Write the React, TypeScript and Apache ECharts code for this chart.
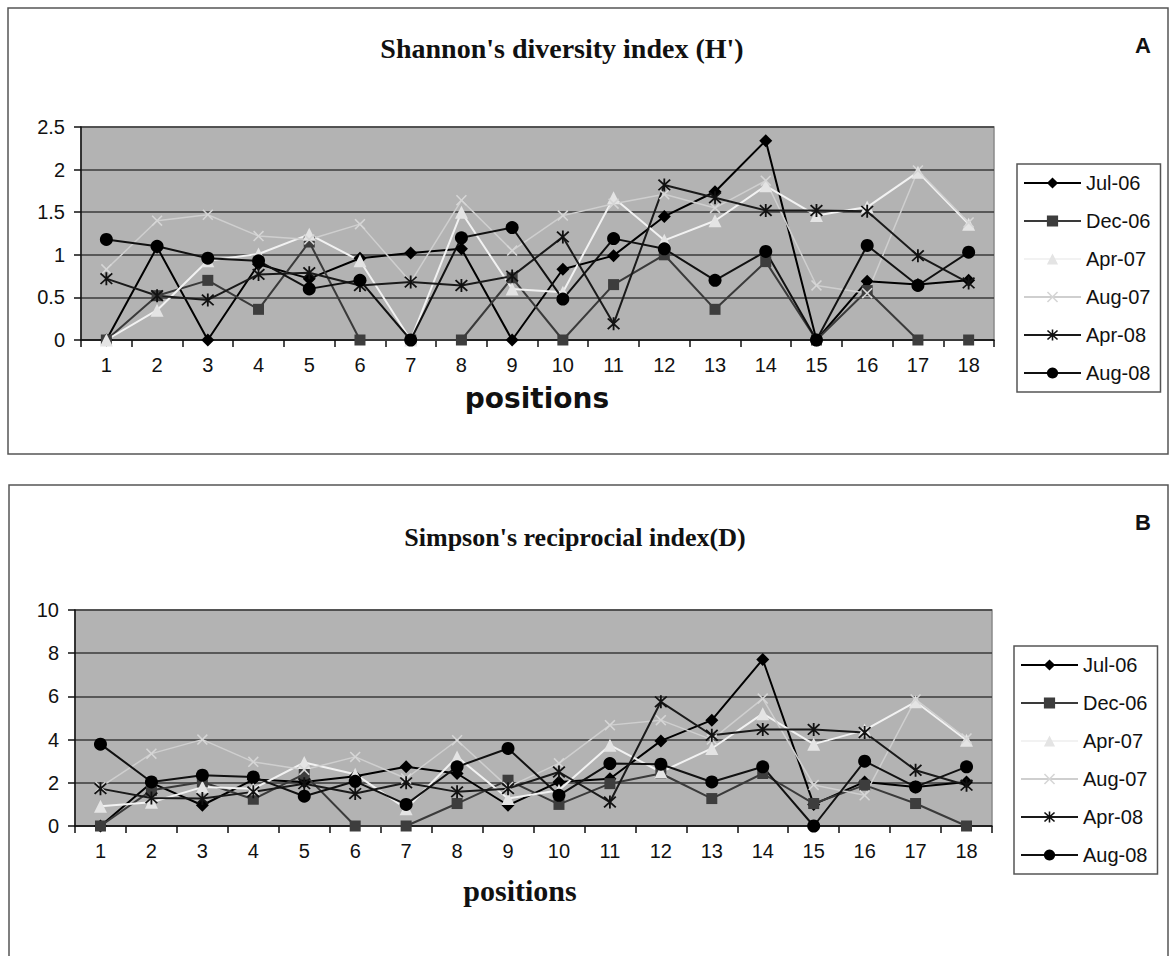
import React, { useEffect, useRef } from "react";
import * as echarts from "echarts";

const positions = ["1","2","3","4","5","6","7","8","9","10","11","12","13","14","15","16","17","18"];
const seriesNames = ["Jul-06", "Dec-06", "Apr-07", "Aug-07", "Apr-08", "Aug-08"];

// Shannon's diversity index (H')
const shJul06 = [0, 1.09, 0, 0.89, 0.72, 0.96, 1.02, 1.07, 0, 0.83, 0.99, 1.45, 1.74, 2.34, 0, 0.69, 0.65, 0.70];
const shDec06 = [0, 0.52, 0.70, 0.36, 1.15, 0, 0, 0, 0.73, 0, 0.65, 1.0, 0.36, 0.92, 0, 0.58, 0, 0];
const shApr07 = [0, 0.35, 0.93, 1.01, 1.24, 0.93, 0, 1.5, 0.6, 0.56, 1.67, 1.17, 1.40, 1.81, 1.46, 1.56, 1.97, 1.36];
const shAug07 = [0.83, 1.40, 1.47, 1.22, 1.18, 1.36, 0.68, 1.64, 1.05, 1.46, 1.6, 1.71, 1.55, 1.87, 0.64, 0.55, 1.99, 1.38];
const shApr08 = [0.72, 0.52, 0.47, 0.77, 0.79, 0.64, 0.68, 0.64, 0.75, 1.21, 0.19, 1.82, 1.67, 1.52, 1.52, 1.51, 0.99, 0.67];
const shAug08 = [1.18, 1.1, 0.96, 0.93, 0.60, 0.70, 0, 1.2, 1.32, 0.48, 1.19, 1.07, 0.70, 1.04, 0, 1.11, 0.64, 1.03];

// Simpson's reciprocal index (D)
const siJul06 = [0, 2.0, 0.96, 2.15, 2.04, 2.3, 2.74, 2.43, 0.96, 2.04, 2.19, 3.94, 4.9, 7.71, 1.0, 2.04, 1.81, 2.04];
const siDec06 = [0, 1.65, 2.04, 1.24, 2.4, 0, 0, 1.04, 2.12, 1.0, 1.96, 2.43, 1.27, 2.43, 1.04, 1.89, 1.04, 0];
const siApr07 = [0.91, 1.1, 1.8, 1.73, 2.94, 2.4, 0.8, 3.2, 1.27, 1.65, 3.74, 2.5, 3.59, 5.2, 3.79, 4.44, 5.75, 3.97];
const siAug07 = [1.8, 3.35, 4.0, 2.97, 2.6, 3.2, 2.2, 3.97, 1.8, 2.9, 4.67, 4.9, 4.0, 5.9, 1.9, 1.42, 5.86, 4.05];
const siApr08 = [1.73, 1.3, 1.27, 1.58, 1.96, 1.5, 2.0, 1.58, 1.73, 2.5, 1.11, 5.75, 4.2, 4.47, 4.47, 4.33, 2.58, 1.89];
const siAug08 = [3.79, 2.04, 2.35, 2.27, 1.38, 2.07, 1.0, 2.74, 3.59, 1.42, 2.89, 2.86, 2.04, 2.74, 0, 3.0, 1.81, 2.74];

const shTicks = { min: 0, max: 2.5, interval: 0.5 };
const siTicks = { min: 0, max: 10, interval: 2 };

const xPath = "path://M1,0 L5,4 L9,0 L10,1 L6,5 L10,9 L9,10 L5,6 L1,10 L0,9 L4,5 L0,1 Z";
const starPath = "path://M1,0 L5,4 L9,0 L10,1 L6,5 L10,9 L9,10 L5,6 L1,10 L0,9 L4,5 L0,1 Z M4.3,-0.5 L5.7,-0.5 L5.7,10.5 L4.3,10.5 Z";

const styles = [
  { symbol: "diamond", size: 13, line: "#000000", mark: "#000000", width: 2 },
  { symbol: "rect", size: 11, line: "#3a3a3a", mark: "#3d3d3d", width: 2 },
  { symbol: "triangle", size: 13, line: "#f2f2f2", mark: "#e4e4e4", width: 2 },
  { symbol: xPath, size: 11, line: "#cfcfcf", mark: "#d6d6d6", width: 1.5 },
  { symbol: starPath, size: 13, line: "#1a1a1a", mark: "#111111", width: 2 },
  { symbol: "circle", size: 13, line: "#111111", mark: "#000000", width: 2 },
];

const SANS = "'Liberation Sans', Arial, sans-serif";
const SERIF = "'Liberation Serif', 'Times New Roman', serif";

function makeSeries(data: number[][], gridIndex: number) {
  return data.map((d, i) => ({
    name: seriesNames[i],
    type: "line",
    xAxisIndex: gridIndex,
    yAxisIndex: gridIndex,
    data: d,
    symbol: styles[i].symbol,
    symbolSize: styles[i].size,
    lineStyle: { color: styles[i].line, width: styles[i].width },
    itemStyle: { color: styles[i].mark, borderWidth: 0 },
    emphasis: { disabled: true },
  }));
}

function makeLegend(left: number, top: number) {
  return {
    orient: "vertical",
    left,
    top,
    padding: [9, 10, 9, 6],
    itemWidth: 57,
    itemHeight: 14,
    itemGap: 18,
    borderColor: "#555",
    borderWidth: 1.5,
    backgroundColor: "#fff",
    data: seriesNames,
    textStyle: { fontFamily: SANS, fontSize: 20, color: "#111" },
  };
}

function xAxis(gridIndex: number) {
  return {
    type: "category",
    gridIndex,
    data: positions,
    boundaryGap: true,
    axisLine: { lineStyle: { color: "#111", width: 1.5 } },
    axisTick: { show: true, length: 7, lineStyle: { color: "#111", width: 1.5 } },
    axisLabel: { fontFamily: SANS, fontSize: 20, color: "#111", margin: 15 },
    splitLine: { show: false },
  };
}

function yAxis(gridIndex: number, t: { min: number; max: number; interval: number }) {
  return {
    type: "value",
    gridIndex,
    min: t.min,
    max: t.max,
    interval: t.interval,
    axisLine: { show: true, lineStyle: { color: "#111", width: 1.5 } },
    axisTick: { show: true, length: 7, lineStyle: { color: "#111", width: 1.5 } },
    axisLabel: { fontFamily: SANS, fontSize: 20, color: "#111", margin: 16 },
    splitLine: { show: true, lineStyle: { color: "#3a3a3a", width: 1.5 } },
  };
}

export default function App() {
  const ref = useRef<HTMLDivElement>(null);
  useEffect(() => {
    if (!ref.current) return;
    const chart = echarts.init(ref.current, null, { renderer: "svg" });
    const option = {
      animation: false,
      backgroundColor: "#ffffff",
      grid: [
        { left: 81, top: 127, width: 913, height: 213, show: true, backgroundColor: "#b3b3b3", borderColor: "#8a8a8a", borderWidth: 1.5 },
        { left: 75, top: 610, width: 917, height: 216, show: true, backgroundColor: "#b3b3b3", borderColor: "#8a8a8a", borderWidth: 1.5 },
      ],
      xAxis: [xAxis(0), xAxis(1)],
      yAxis: [yAxis(0, shTicks), yAxis(1, siTicks)],
      legend: [makeLegend(1017, 164), makeLegend(1014, 646)],
      series: [
        ...makeSeries([shJul06, shDec06, shApr07, shAug07, shApr08, shAug08], 0),
        ...makeSeries([siJul06, siDec06, siApr07, siAug07, siApr08, siAug08], 1),
      ],
      graphic: [
        { type: "rect", silent: true, z: -10, shape: { x: 8, y: 8, width: 1160, height: 446 }, style: { fill: "none", stroke: "#555", lineWidth: 1.5 } },
        { type: "rect", silent: true, z: -10, shape: { x: 9, y: 485, width: 1159, height: 490 }, style: { fill: "none", stroke: "#555", lineWidth: 1.5 } },
        { type: "text", x: 562, y: 48, style: { text: "Shannon's diversity index (H')", font: `bold 28px ${SERIF}`, fill: "#111", align: "center", verticalAlign: "middle", textAlign: "center", textVerticalAlign: "middle" } },
        { type: "text", x: 1143, y: 45, style: { text: "A", font: `bold 22px ${SANS}`, fill: "#111", align: "center", verticalAlign: "middle", textAlign: "center", textVerticalAlign: "middle" } },
        { type: "text", x: 537, y: 398, style: { text: "positions", font: `bold 28px 'DejaVu Sans', Verdana, sans-serif`, fill: "#111", align: "center", verticalAlign: "middle", textAlign: "center", textVerticalAlign: "middle" } },
        { type: "text", x: 575, y: 537, style: { text: "Simpson's reciprocial index(D)", font: `bold 26px ${SERIF}`, fill: "#111", align: "center", verticalAlign: "middle", textAlign: "center", textVerticalAlign: "middle" } },
        { type: "text", x: 1143, y: 522, style: { text: "B", font: `bold 22px ${SANS}`, fill: "#111", align: "center", verticalAlign: "middle", textAlign: "center", textVerticalAlign: "middle" } },
        { type: "text", x: 520, y: 890, style: { text: "positions", font: `bold 30px ${SERIF}`, fill: "#111", align: "center", verticalAlign: "middle", textAlign: "center", textVerticalAlign: "middle" } },
      ],
    };
    chart.setOption(option as any);
    return () => chart.dispose();
  }, []);
  return <div ref={ref} style={{ position: "absolute", left: 0, top: 0, width: 1171, height: 956 }} />;
}
